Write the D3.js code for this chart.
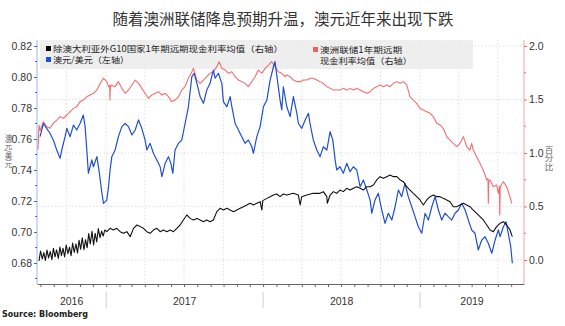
<!DOCTYPE html>
<html><head><meta charset="utf-8">
<script src="https://cdn.jsdelivr.net/npm/d3@7"></script>
<style>body{margin:0;background:#fff}svg{display:block}</style>
</head><body><svg id="c" width="565" height="326"></svg>
<script>
// ---- data (dates as decimal years) ----
const audDates = [2016.580,2016.601,2016.622,2016.643,2016.664,2016.686,2016.707,2016.718,2016.739,2016.750,2016.771,2016.792,2016.813,2016.834,2016.855,2016.866,2016.877,2016.887,2016.909,2016.919,2016.941,2016.957,2016.973,2016.983,2017.004,2017.015,2017.025,2017.036,2017.057,2017.078,2017.100,2017.121,2017.142,2017.164,2017.185,2017.206,2017.227,2017.248,2017.259,2017.280,2017.301,2017.323,2017.344,2017.355,2017.376,2017.397,2017.412,2017.425,2017.439,2017.461,2017.482,2017.503,2017.524,2017.546,2017.561,2017.578,2017.599,2017.620,2017.641,2017.662,2017.683,2017.694,2017.715,2017.737,2017.747,2017.769,2017.790,2017.801,2017.822,2017.843,2017.864,2017.885,2017.906,2017.928,2017.938,2017.960,2017.981,2018.002,2018.024,2018.045,2018.066,2018.076,2018.091,2018.108,2018.119,2018.129,2018.151,2018.172,2018.193,2018.215,2018.225,2018.246,2018.268,2018.289,2018.299,2018.320,2018.342,2018.363,2018.384,2018.406,2018.427,2018.444,2018.459,2018.469,2018.490,2018.511,2018.533,2018.554,2018.575,2018.597,2018.618,2018.639,2018.661,2018.682,2018.692,2018.713,2018.734,2018.756,2018.777,2018.798,2018.820,2018.841,2018.862,2018.883,2018.904,2018.925,2018.947,2018.968,2018.989,2019.011,2019.032,2019.053,2019.075,2019.096,2019.117,2019.138,2019.159,2019.180,2019.202,2019.223,2019.244,2019.266,2019.287,2019.308,2019.329,2019.350,2019.371,2019.393,2019.414,2019.435,2019.457,2019.478,2019.499,2019.510,2019.531,2019.548,2019.562,2019.578,2019.588];
const audValues = [.7615,.7700,.7669,.7637,.7594,.7529,.7475,.7529,.7615,.7669,.7615,.7690,.7658,.7700,.7755,.7680,.7529,.7379,.7465,.7421,.7486,.7379,.7250,.7185,.7206,.7292,.7400,.7486,.7529,.7615,.7680,.7700,.7680,.7626,.7658,.7723,.7669,.7594,.7529,.7572,.7508,.7465,.7421,.7357,.7443,.7486,.7443,.7379,.7529,.7572,.7594,.7700,.7808,.8002,.8024,.7959,.7873,.7830,.7916,.7959,.8045,.7992,.8024,.7959,.7841,.7808,.7873,.7808,.7700,.7658,.7615,.7572,.7594,.7550,.7508,.7615,.7680,.7808,.7852,.7981,.8066,.8099,.7981,.7852,.7787,.7937,.7808,.7744,.7873,.7766,.7700,.7669,.7723,.7766,.7700,.7594,.7529,.7486,.7550,.7529,.7647,.7594,.7465,.7400,.7421,.7379,.7443,.7389,.7421,.7400,.7292,.7335,.7271,.7206,.7121,.7206,.7250,.7142,.7056,.7121,.7077,.7163,.7271,.7228,.7314,.7228,.7163,.7099,.7034,.6992,.7121,.7077,.7163,.7228,.7142,.7077,.7121,.7099,.7077,.7121,.7142,.7185,.7142,.7077,.7013,.6992,.6884,.6948,.6970,.6927,.6863,.6948,.7013,.6970,.7034,.7066,.6992,.6905,.6798];

const rbaDates = [2016.567,2016.573,2016.580,2016.601,2016.622,2016.643,2016.664,2016.686,2016.707,2016.728,2016.750,2016.771,2016.792,2016.813,2016.834,2016.855,2016.877,2016.898,2016.919,2016.941,2016.962,2016.983,2017.004,2017.015,2017.022,2017.024,2017.026,2017.030,2017.057,2017.078,2017.100,2017.121,2017.142,2017.164,2017.185,2017.206,2017.227,2017.248,2017.269,2017.291,2017.312,2017.333,2017.355,2017.376,2017.397,2017.418,2017.439,2017.461,2017.482,2017.503,2017.524,2017.546,2017.556,2017.578,2017.599,2017.620,2017.641,2017.662,2017.683,2017.705,2017.720,2017.737,2017.758,2017.779,2017.801,2017.822,2017.843,2017.864,2017.885,2017.906,2017.928,2017.949,2017.970,2017.992,2018.013,2018.034,2018.055,2018.076,2018.097,2018.119,2018.140,2018.151,2018.172,2018.193,2018.215,2018.236,2018.257,2018.278,2018.299,2018.320,2018.342,2018.363,2018.384,2018.406,2018.427,2018.448,2018.469,2018.490,2018.511,2018.533,2018.554,2018.575,2018.597,2018.618,2018.639,2018.661,2018.682,2018.703,2018.724,2018.745,2018.766,2018.788,2018.809,2018.830,2018.852,2018.873,2018.894,2018.915,2018.936,2018.957,2018.979,2019.000,2019.021,2019.043,2019.064,2019.085,2019.106,2019.127,2019.148,2019.170,2019.191,2019.212,2019.234,2019.255,2019.276,2019.297,2019.318,2019.329,2019.339,2019.361,2019.382,2019.403,2019.425,2019.433,2019.435,2019.438,2019.446,2019.467,2019.488,2019.499,2019.506,2019.508,2019.511,2019.531,2019.552,2019.573,2019.584];
const rbaValues = [1.030,1.260,1.210,1.293,1.246,1.231,1.277,1.308,1.339,1.324,1.355,1.386,1.417,1.433,1.480,1.495,1.526,1.542,1.558,1.589,1.651,1.698,1.667,1.620,1.630,1.495,1.600,1.636,1.620,1.667,1.604,1.558,1.589,1.636,1.682,1.651,1.604,1.558,1.511,1.542,1.558,1.573,1.542,1.558,1.526,1.480,1.495,1.526,1.589,1.620,1.698,1.760,1.791,1.682,1.651,1.682,1.713,1.745,1.760,1.807,1.853,1.791,1.776,1.745,1.760,1.713,1.682,1.667,1.651,1.620,1.667,1.713,1.776,1.745,1.791,1.822,1.853,1.807,1.760,1.745,1.713,1.729,1.713,1.682,1.667,1.667,1.682,1.682,1.698,1.698,1.682,1.667,1.651,1.620,1.604,1.589,1.589,1.589,1.604,1.589,1.604,1.589,1.604,1.589,1.573,1.558,1.573,1.604,1.620,1.636,1.620,1.636,1.620,1.651,1.667,1.651,1.667,1.636,1.526,1.495,1.464,1.417,1.402,1.386,1.371,1.339,1.277,1.262,1.231,1.153,1.121,1.090,1.059,1.090,1.153,1.059,1.028,1.090,1.028,0.966,0.903,0.841,0.748,0.760,0.530,0.740,0.748,0.685,0.701,0.623,0.690,0.420,0.685,0.732,0.685,0.592,0.530];

const g10Dates = [2016.573,2016.583,2016.594,2016.604,2016.614,2016.624,2016.634,2016.645,2016.655,2016.665,2016.675,2016.685,2016.696,2016.706,2016.716,2016.726,2016.736,2016.746,2016.757,2016.767,2016.777,2016.787,2016.797,2016.808,2016.818,2016.828,2016.838,2016.848,2016.859,2016.869,2016.879,2016.889,2016.899,2016.910,2016.920,2016.930,2016.940,2016.950,2016.961,2016.971,2016.981,2016.991,2017.004,2017.025,2017.046,2017.068,2017.089,2017.110,2017.132,2017.153,2017.174,2017.196,2017.217,2017.238,2017.259,2017.280,2017.301,2017.323,2017.344,2017.365,2017.387,2017.408,2017.429,2017.450,2017.471,2017.492,2017.514,2017.535,2017.556,2017.578,2017.599,2017.620,2017.641,2017.662,2017.683,2017.705,2017.726,2017.747,2017.769,2017.790,2017.811,2017.832,2017.854,2017.875,2017.896,2017.917,2017.938,2017.960,2017.981,2017.992,2017.998,2018.024,2018.045,2018.066,2018.087,2018.108,2018.129,2018.151,2018.193,2018.225,2018.236,2018.246,2018.278,2018.320,2018.363,2018.384,2018.406,2018.409,2018.427,2018.448,2018.469,2018.490,2018.511,2018.533,2018.554,2018.575,2018.597,2018.618,2018.639,2018.661,2018.682,2018.703,2018.724,2018.745,2018.766,2018.788,2018.809,2018.830,2018.852,2018.873,2018.894,2018.915,2018.936,2018.957,2018.979,2019.000,2019.021,2019.043,2019.064,2019.085,2019.106,2019.127,2019.148,2019.170,2019.191,2019.212,2019.234,2019.255,2019.276,2019.297,2019.318,2019.339,2019.361,2019.382,2019.403,2019.425,2019.446,2019.467,2019.488,2019.510,2019.531,2019.552,2019.573,2019.588];
const g10Values = [-0.009,0.084,0.010,0.070,-0.005,0.093,0.020,0.080,0.004,0.109,0.030,0.095,0.015,0.121,0.040,0.110,0.028,0.140,0.060,0.120,0.041,0.159,0.070,0.150,0.065,0.183,0.100,0.207,0.096,0.190,0.114,0.247,0.150,0.268,0.140,0.250,0.168,0.293,0.210,0.270,0.224,0.280,0.265,0.296,0.280,0.296,0.265,0.249,0.265,0.218,0.296,0.327,0.312,0.296,0.265,0.249,0.280,0.296,0.265,0.280,0.265,0.280,0.265,0.296,0.327,0.374,0.421,0.389,0.374,0.389,0.374,0.358,0.374,0.358,0.374,0.452,0.483,0.467,0.483,0.467,0.452,0.467,0.483,0.498,0.514,0.530,0.514,0.530,0.545,0.467,0.555,0.576,0.592,0.607,0.617,0.592,0.617,0.607,0.623,0.607,0.514,0.592,0.607,0.623,0.623,0.639,0.592,0.530,0.607,0.639,0.623,0.654,0.639,0.670,0.654,0.670,0.685,0.670,0.654,0.685,0.685,0.701,0.748,0.779,0.763,0.779,0.794,0.779,0.779,0.748,0.732,0.685,0.654,0.623,0.592,0.561,0.514,0.561,0.592,0.607,0.592,0.592,0.576,0.561,0.545,0.498,0.498,0.514,0.530,0.514,0.498,0.467,0.436,0.405,0.374,0.327,0.280,0.265,0.312,0.343,0.358,0.327,0.280,0.218];

const leftTicks = [0.68,0.70,0.72,0.74,0.76,0.78,0.80,0.82];
const rightTicks = [0.0,0.5,1.0,1.5,2.0];
const yearLabels = ["2016","2017","2018","2019"];
const title = "随着澳洲联储降息预期升温，澳元近年来出现下跌";
const leftTitle = "澳元/美元";
const rightTitle = "百分比";
const legendItems = [
  {lines:["除澳大利亚外G10国家1年期远期现金利率均值（右轴）"], widths:[230], color:"#000"},
  {lines:["澳元/美元（左轴）"], widths:[76], color:"#1f4fd0"},
  {lines:["澳洲联储1年期远期","现金利率均值（右轴）"], widths:[82,92], color:"#f06262"}
];

// ---- helpers ----
function dec2date(d){const y=Math.floor(d);const s=new Date(y,0,1),e=new Date(y+1,0,1);return new Date(+s+(d-y)*(e-s));}

const svg = d3.select("#c");
const L=37, R=524, T=40, B=284;
const x = d3.scaleTime().domain([dec2date(2016.5605), dec2date(2019.6624)]).range([L,R]);
const yL = d3.scaleLinear().domain([0.68,0.82]).range([263,46]);
const yR = d3.scaleLinear().domain([0,2]).range([260,46]);

// gridlines
const quarters = d3.timeMonth.every(3).range(dec2date(2016.6), dec2date(2019.66));
svg.append("g").selectAll("line").data(quarters).join("line")
  .attr("x1",d=>x(d)).attr("x2",d=>x(d)).attr("y1",T).attr("y2",B)
  .attr("stroke","#d8d8d8").attr("stroke-width",0.8).attr("stroke-dasharray","1.5,2");
svg.append("g").selectAll("line").data(rightTicks).join("line")
  .attr("x1",L).attr("x2",R).attr("y1",d=>yR(d)).attr("y2",d=>yR(d))
  .attr("stroke","#d8d8d8").attr("stroke-width",0.8).attr("stroke-dasharray","1.5,2");

// legend box (behind lines)
svg.append("rect").attr("x",40).attr("y",40).attr("width",433).attr("height",29)
  .attr("fill","#ebebeb").attr("opacity",0.85);

// lines
function series(dates, vals, yscale, color, w){
  const data = dates.map((d,i)=>[dec2date(d), vals[i]]);
  svg.append("path").datum(data)
    .attr("fill","none").attr("stroke",color).attr("stroke-width",w).attr("stroke-linejoin","round")
    .attr("d", d3.line().x(d=>x(d[0])).y(d=>yscale(d[1])));
}
series(rbaDates, rbaValues, yR, "#f26d6d", 1.1);
series(audDates, audValues, yL, "#1f4fd0", 1.2);
series(g10Dates, g10Values, yR, "#111", 1.1);

// left axis
svg.append("line").attr("x1",L).attr("x2",L).attr("y1",T).attr("y2",B).attr("stroke","#9ab6ea").attr("stroke-width",1);
const gl = svg.append("g").attr("transform",`translate(${L},0)`)
  .call(d3.axisLeft(yL).tickValues(leftTicks).tickFormat(d3.format(".2f")).tickSize(3).tickPadding(2));
gl.select(".domain").remove();
gl.selectAll(".tick line").attr("stroke","#3a6ad8");
gl.selectAll(".tick text").attr("fill","#333").style("font-family","Liberation Sans, Arial, sans-serif").style("font-size","10.5px");
const leftMinor = [0.67,0.69,0.71,0.73,0.75,0.77,0.79,0.81];
svg.append("g").selectAll("line").data(leftMinor).join("line")
  .attr("x1",L-2).attr("x2",L).attr("y1",d=>yL(d)).attr("y2",d=>yL(d)).attr("stroke","#3a6ad8");

// right axis
svg.append("line").attr("x1",R).attr("x2",R).attr("y1",T).attr("y2",B).attr("stroke","#f5a5a5").attr("stroke-width",1);
const gr = svg.append("g").attr("transform",`translate(${R},0)`)
  .call(d3.axisRight(yR).tickValues(rightTicks).tickFormat(d3.format(".1f")).tickSize(3).tickPadding(2));
gr.select(".domain").remove();
gr.selectAll(".tick line").attr("stroke","#ee6a6a");
gr.selectAll(".tick text").attr("fill","#333").style("font-family","Liberation Sans, Arial, sans-serif").style("font-size","10.5px");
const rightMinor = [0.25,0.75,1.25,1.75];
svg.append("g").selectAll("line").data(rightMinor).join("line")
  .attr("x1",R).attr("x2",R+2).attr("y1",d=>yR(d)).attr("y2",d=>yR(d)).attr("stroke","#ee6a6a");

// x axis
const gx = svg.append("g").attr("transform",`translate(0,${B})`)
  .call(d3.axisBottom(x).ticks(d3.timeMonth.every(1)).tickFormat("").tickSize(3).tickSizeOuter(0));
gx.select(".domain").attr("stroke","#666");
gx.selectAll(".tick line").attr("stroke","#666");
const yearStarts = [dec2date(2017), dec2date(2018), dec2date(2019)];
svg.append("g").selectAll("line").data(yearStarts).join("line")
  .attr("x1",d=>x(d)).attr("x2",d=>x(d)).attr("y1",292).attr("y2",308)
  .attr("stroke","#cfcfcf").attr("stroke-width",1);
const bounds = [L, ...yearStarts.map(x), R];
svg.append("g").selectAll("text").data(yearLabels).join("text")
  .attr("x",(d,i)=>(bounds[i]+bounds[i+1])/2).attr("y",305).attr("text-anchor","middle")
  .attr("fill","#333").style("font-family","Liberation Sans, Arial, sans-serif").style("font-size","10.5px").text(d=>d);

// title
svg.append("text").attr("x",283).attr("y",25).attr("text-anchor","middle")
  .attr("fill","#333").style("font-family","Noto Sans CJK SC").style("font-size","15.5px").text(title);

// axis titles (vertical writing)
svg.append("text").attr("x",8.5).attr("y",151).attr("text-anchor","middle").attr("fill","#666")
  .style("writing-mode","vertical-rl").style("font-family","Noto Sans CJK SC").style("font-size","7.6px").text(leftTitle);
svg.append("text").attr("x",549).attr("y",158).attr("text-anchor","middle").attr("fill","#666")
  .style("writing-mode","vertical-rl").style("font-family","Noto Sans CJK SC").style("font-size","8.5px").text(rightTitle);

// legend
const legPos = [{x:46,y:46},{x:46,y:57},{x:313,y:47}];
legendItems.forEach((it,i)=>{
  const p = legPos[i];
  svg.append("rect").attr("x",p.x).attr("y",p.y).attr("width",5).attr("height",5).attr("fill",it.color);
  it.lines.forEach((ln,j)=>{
    svg.append("text").attr("x",p.x+7).attr("y",p.y+5.5+j*11.5).attr("fill","#222")
      .attr("textLength",it.widths[j]).attr("lengthAdjust","spacingAndGlyphs")
      .style("font-family","Noto Sans CJK SC").style("font-size","8.5px").text(ln);
  });
});

// source
svg.append("text").attr("x",2).attr("y",317).attr("fill","#222")
  .style("font-family","DejaVu Sans, sans-serif").style("font-weight","bold").style("font-size","8px").text("Source: Bloomberg");
</script></body></html>
